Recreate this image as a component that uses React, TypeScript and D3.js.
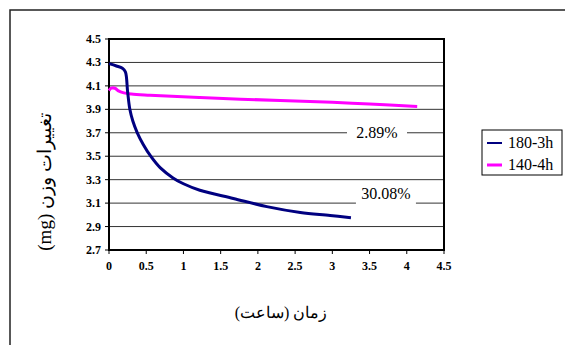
import React from "react";
import * as d3 from "d3";

const xTicks = [0, 0.5, 1, 1.5, 2, 2.5, 3, 3.5, 4, 4.5];
const yTicks = [2.7, 2.9, 3.1, 3.3, 3.5, 3.7, 3.9, 4.1, 4.3, 4.5];

const series180X = [0, 0.1, 0.18, 0.22, 0.25, 0.28, 0.32, 0.38, 0.46, 0.56, 0.69, 0.86, 1.0, 1.22, 1.67, 2.12, 2.57, 2.97, 3.25];
const series180Y = [4.29, 4.27, 4.25, 4.22, 4.05, 3.9, 3.8, 3.7, 3.6, 3.5, 3.4, 3.315, 3.265, 3.21, 3.14, 3.07, 3.02, 2.995, 2.975];

const series140X = [0, 0.03, 0.08, 0.12, 0.2, 0.3, 0.55, 1.22, 2.3, 3.0, 3.5, 4.14];
const series140Y = [4.06, 4.08, 4.08, 4.06, 4.04, 4.03, 4.02, 4.0, 3.975, 3.96, 3.945, 3.925];

const seriesNames = ["180-3h", "140-4h"];
const seriesColors = ["#000080", "#FF00FF"];
const annotations = [
  { text: "2.89%", x: 3.6, y: 3.7 },
  { text: "30.08%", x: 3.72, y: 3.18 },
];

const yLabel = "تغییرات وزن (mg)";
const xLabel = "زمان (ساعت)";

const css = `
svg.chart text { font-family: "Liberation Serif", "Times New Roman", serif; }
svg.chart text.tick { font-weight: bold; font-size: 12px; }
svg.chart text.big { font-size: 16px; }
svg.chart text.ylab { font-size: 19px; }
`;

export default function App() {
  const W = 565, H = 345;
  const x = d3.scaleLinear().domain([0, 4.5]).range([109, 444]);
  const y = d3.scaleLinear().domain([2.7, 4.5]).range([250, 39]);
  const line = d3.line<[number, number]>().x(d => x(d[0])).y(d => y(d[1])).curve(d3.curveCatmullRom.alpha(0.5));
  const d180 = line(series180X.map((v, i) => [v, series180Y[i]] as [number, number]));
  const d140 = line(series140X.map((v, i) => [v, series140Y[i]] as [number, number]));

  return (
    <>
      <style>{css}</style>
      <svg className="chart" width={W} height={H} style={{ position: "absolute", left: 0, top: 0, background: "#fff" }}>
        <rect x={10} y={10} width={700} height={500} fill="#fff" stroke="#222" strokeWidth={1.5} />
        {yTicks.slice(1, -1).map(t => (
          <line key={t} x1={x(0)} x2={x(4.5)} y1={y(t)} y2={y(t)} stroke="#333" strokeWidth={1} />
        ))}
        <rect x={x(0)} y={y(4.5)} width={x(4.5) - x(0)} height={y(2.7) - y(4.5)} fill="none" stroke="#000" strokeWidth={2} />
        {xTicks.map(t => (
          <g key={t}>
            <line x1={x(t)} x2={x(t)} y1={y(2.7)} y2={y(2.7) + 4} stroke="#000" strokeWidth={1} />
            <text className="tick" x={x(t)} y={y(2.7) + 20} textAnchor="middle">{t}</text>
          </g>
        ))}
        {yTicks.map(t => (
          <g key={t}>
            <line x1={x(0) - 4} x2={x(0)} y1={y(t)} y2={y(t)} stroke="#000" strokeWidth={1} />
            <text className="tick" x={x(0) - 8} y={y(t) + 4} textAnchor="end">{t.toFixed(1)}</text>
          </g>
        ))}
        <path d={d140 || ""} fill="none" stroke={seriesColors[1]} strokeWidth={3} />
        <path d={d180 || ""} fill="none" stroke={seriesColors[0]} strokeWidth={3} />
        {annotations.map(a => (
          <g key={a.text}>
            <rect x={x(a.x) - 30} y={y(a.y) - 11} width={60} height={22} fill="#fff" />
            <text className="big" x={x(a.x)} y={y(a.y) + 5} textAnchor="middle">{a.text}</text>
          </g>
        ))}
        <rect x={482} y={130} width={80} height={45} fill="#fff" stroke="#000" strokeWidth={1} />
        {seriesNames.map((n, i) => (
          <g key={n}>
            <line x1={487} x2={502} y1={143 + i * 22} y2={143 + i * 22} stroke={seriesColors[i]} strokeWidth={i === 0 ? 2 : 3} />
            <text className="big" x={508} y={148 + i * 22}>{n}</text>
          </g>
        ))}
        <text className="ylab" transform="translate(51,182) rotate(-90)" textAnchor="middle" direction="rtl">{yLabel}</text>
        <text className="big" x={281} y={318} textAnchor="middle" direction="rtl">{xLabel}</text>
      </svg>
    </>
  );
}
